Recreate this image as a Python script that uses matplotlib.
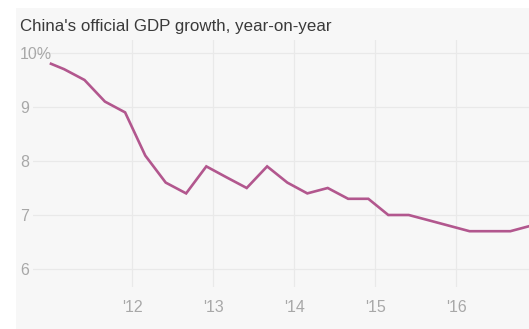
import matplotlib
matplotlib.use('Agg')
import matplotlib.pyplot as plt
import pandas as pd
from matplotlib.patches import Rectangle

# quarterly GDP growth, plotted at the first day of the quarter's last month
dates = ['2011-01', '2011-03', '2011-06', '2011-09', '2011-12',
         '2012-03', '2012-06', '2012-09', '2012-12',
         '2013-03', '2013-06', '2013-09', '2013-12',
         '2014-03', '2014-06', '2014-09', '2014-12',
         '2015-03', '2015-06', '2015-09', '2015-12',
         '2016-03', '2016-06', '2016-09', '2016-12']
growth = [9.8, 9.7, 9.5, 9.1, 8.9,
          8.1, 7.6, 7.4, 7.9,
          7.7, 7.5, 7.9, 7.6,
          7.4, 7.5, 7.3, 7.3,
          7.0, 7.0, 6.9, 6.8,
          6.7, 6.7, 6.7, 6.8]
yticks = [6, 7, 8, 9, 10]
ylabels = ['6', '7', '8', '9', '10%']
xyears = ['2012', '2013', '2014', '2015', '2016']
xlabels = ["'12", "'13", "'14", "'15", "'16"]

plt.rcParams['font.family'] = ['Liberation Sans', 'DejaVu Sans']

W, H = 529, 329
fig = plt.figure(figsize=(W/100, H/100), dpi=100)
fig.patch.set_facecolor('white')
fig.patches.append(Rectangle((16/W, 0), 1, 1 - 8/H, transform=fig.transFigure,
                             facecolor='#f7f7f7', edgecolor='none', zorder=-5))

ax = fig.add_axes([33/W, 1 - 287/H, 1 - 33/W, (287 - 40)/H])
ax.set_facecolor('none')
x = pd.to_datetime(dates)
ax.plot(x, growth, color='#b2578e', lw=1.9, solid_joinstyle='miter', zorder=3)

ax.set_ylim(5.667, 10.24)
ax.set_xlim(pd.Timestamp('2010-10-12'), pd.Timestamp('2016-11-24'))
ax.set_yticks(yticks)
ax.set_yticklabels(ylabels)
ax.set_xticks(pd.to_datetime(xyears))
ax.set_xticklabels(xlabels)
ax.tick_params(axis='both', length=0, labelsize=11.5, labelcolor='#a8a8a8')
ax.tick_params(axis='y', pad=9.4)
ax.tick_params(axis='x', pad=9)
for lab in ax.get_yticklabels():
    lab.set_horizontalalignment('left')
ax.grid(True, color='#e9e9e9', lw=0.9)
for s in ax.spines.values():
    s.set_visible(False)

fig.text(20/W, 1 - 26/H, "China's official GDP growth, year-on-year",
         fontsize=12.2, color='#3a3a3a', va='center', ha='left')

fig.savefig('out.png', dpi=100, facecolor='white')
